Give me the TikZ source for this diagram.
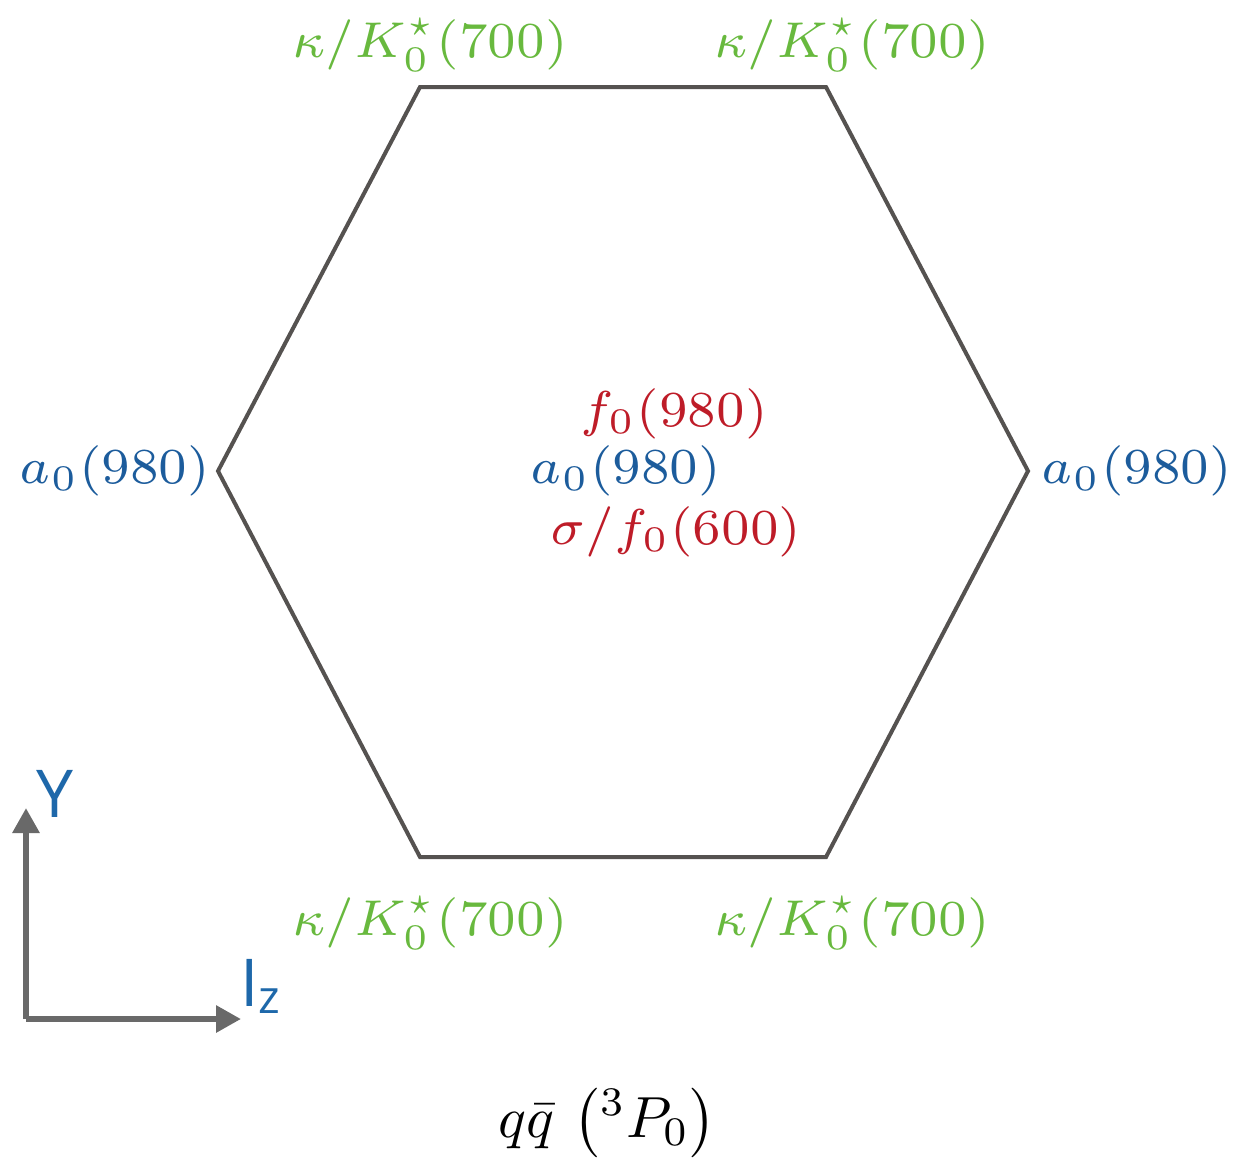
\documentclass[tikz,border=0pt]{standalone}
\usepackage{fontspec}
\usetikzlibrary{arrows.meta}
\newfontfamily\axfont{Open Sans}
\definecolor{hexgray}{RGB}{85,82,80}
\definecolor{axgray}{RGB}{105,105,105}
\definecolor{kgreen}{RGB}{104,185,62}
\definecolor{ablue}{RGB}{28,92,156}
\definecolor{yblue}{RGB}{30,104,170}
\definecolor{fred}{RGB}{190,28,40}
\begin{document}
\begin{tikzpicture}[x=0.5pt,y=-0.5pt,
  lbl/.style={anchor=base,inner sep=0pt,scale=3.6,font=\fontsize{7}{8}\selectfont},
  kap/.style={lbl,text=kgreen},
  aa/.style={lbl,text=ablue},
  ff/.style={lbl,text=fred},
  caplbl/.style={anchor=base,inner sep=0pt,scale=2.9,font=\fontsize{10}{12}\selectfont},
  axl/.style={anchor=base,inner sep=0pt,text=yblue,font=\axfont\fontsize{33}{36}\selectfont},
  hexline/.style={draw=hexgray,line width=2pt,line join=miter},
  axline/.style={draw=axgray,line width=3pt,-{Triangle[length=12.5pt,width=13pt]}}]
\useasboundingbox (0,0) rectangle (1234,1163);
\coordinate (v1) at (420,87);
\coordinate (v2) at (826,87);
\coordinate (v3) at (1028,471);
\coordinate (v4) at (826,857);
\coordinate (v5) at (420,857);
\coordinate (v6) at (218,471);
\draw[hexline] (v1) -- (v2) -- (v3) -- (v4) -- (v5) -- (v6) -- cycle;
\node[kap] (ktl) at (430,57) {$\kappa/K_0^\star(700)$};
\node[kap] (ktr) at (852,57) {$\kappa/K_0^\star(700)$};
\node[kap] (kbl) at (430,935) {$\kappa/K_0^\star(700)$};
\node[kap] (kbr) at (852,935) {$\kappa/K_0^\star(700)$};
\node[aa] (al) at (115,483) {$a_0(980)$};
\node[aa] (ar) at (1137,483) {$a_0(980)$};
\node[aa] (ac) at (626,483) {$a_0(980)$};
\node[ff] (fc) at (674,426) {$f_0(980)$};
\node[ff] (sc) at (676,544) {$\sigma/f_0(600)$};
\coordinate (o) at (26,1019);
\coordinate (ytip) at (26,808);
\coordinate (xtip) at (241,1019);
\draw[axline] (o) -- (ytip);
\draw[axline] (o) -- (xtip);
\node[axl] (ylab) at (55,817) {Y};
\node[axl,anchor=base west] (izlab) at (240,1006) {I\textsubscript{z}};
\node[caplbl] (cap) at (607,1137) {$q\bar{q}\,\left({}^3P_0\right)$};
\end{tikzpicture}
\end{document}
